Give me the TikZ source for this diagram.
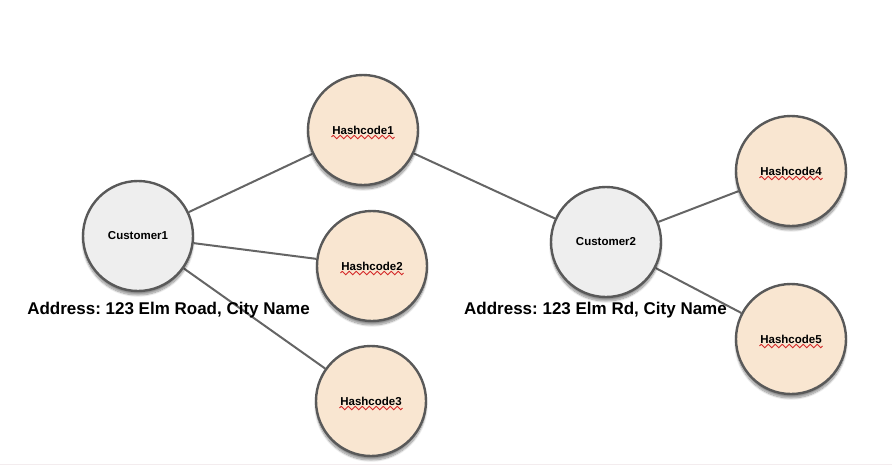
\documentclass[tikz,border=0pt]{standalone}
\usepackage{fontspec}
\setmainfont{Liberation Sans}
\usetikzlibrary{backgrounds,shadows.blur,decorations.pathmorphing}
\definecolor{custfill}{HTML}{EEEEEE}
\definecolor{hashfill}{HTML}{F9E6D1}
\definecolor{ringcol}{HTML}{595959}
\definecolor{linkcol}{HTML}{656565}
\definecolor{edgecol}{HTML}{F3ECEE}
\definecolor{spellcol}{HTML}{D42A2A}
\frenchspacing
\begin{document}
\begin{tikzpicture}[x=1pt, y=-1pt, line join=round, line cap=round,
  ball/.style={circle, draw=ringcol, line width=2.4pt, minimum size=110pt, inner sep=0pt,
    font=\fontsize{11.5}{13}\selectfont\bfseries,
    blur shadow={shadow xshift=0pt, shadow yshift=-4pt, shadow blur steps=10, shadow opacity=45}},
  cust/.style={ball, fill=custfill},
  hash/.style={ball, fill=hashfill},
  link/.style={draw=linkcol, line width=2pt},
  addr/.style={font=\fontsize{17}{20}\selectfont\bfseries, inner sep=0pt},
  squiggle/.style={draw=spellcol, line width=0.9pt, line cap=butt, decorate,
    decoration={zigzag, segment length=7pt, amplitude=1.8pt}}]
\useasboundingbox (0,0) rectangle (892,466);
\draw[edgecol, line width=1.5pt] (0,464.5)--(892,464.5);
% customers
\node[cust] (c1) at (138,236) {Customer1};
\node[cust] (c2) at (606,242) {Customer2};
% hashcodes
\node[hash] (h1) at (363,130) {Hashcode1};
\node[hash] (h2) at (372,266) {Hashcode2};
\node[hash] (h3) at (371,401) {Hashcode3};
\node[hash] (h4) at (791,171) {Hashcode4};
\node[hash] (h5) at (791,339) {Hashcode5};
\foreach \n in {1,...,5}
  \draw[squiggle] ([xshift=-31.5pt,yshift=-7pt]h\n.center)--([xshift=31.5pt,yshift=-7pt]h\n.center);
\begin{scope}[on background layer]
\draw[link] (c1)--(h1) (c1)--(h2) (c1)--(h3);
\draw[link] (h1)--(c2) (c2)--(h4) (c2)--(h5);
\end{scope}
\node[addr] (a1) at (168.5,310) {Address: 123 Elm Road, City Name};
\node[addr] (a2) at (595.5,310) {Address: 123 Elm Rd, City Name};
\end{tikzpicture}
\end{document}
